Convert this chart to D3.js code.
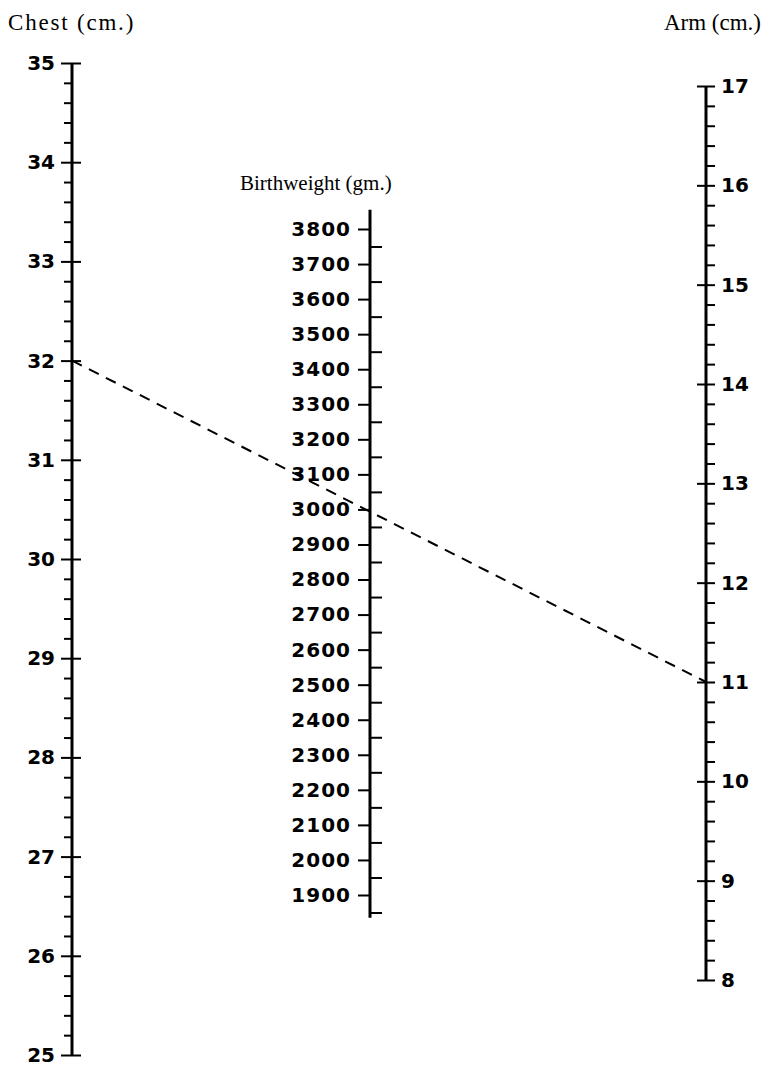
<!DOCTYPE html>
<html>
<head>
<meta charset="utf-8">
<script src="https://cdn.jsdelivr.net/npm/d3@7"></script>
<style>
  html, body { margin: 0; padding: 0; background: #fff; }
  svg { display: block; }
  .lbl { font-family: "DejaVu Sans", sans-serif; font-weight: bold; font-size: 20px; fill: #000; }
  .title { font-family: "Liberation Serif", "Times New Roman", serif; font-size: 23px; fill: #000; }
</style>
</head>
<body>
<script>
// ---- data ----
const chestMajor = [25, 26, 27, 28, 29, 30, 31, 32, 33, 34, 35];
const armMajor = [8, 9, 10, 11, 12, 13, 14, 15, 16, 17];
const bwMajor = [1900, 2000, 2100, 2200, 2300, 2400, 2500, 2600, 2700, 2800, 2900,
                 3000, 3100, 3200, 3300, 3400, 3500, 3600, 3700, 3800];
const bwMinor = [1850, 1950, 2050, 2150, 2250, 2350, 2450, 2550, 2650, 2750, 2850,
                 2950, 3050, 3150, 3250, 3350, 3450, 3550, 3650, 3750];
const chestMinor = d3.range(250, 351, 2).map(v => v / 10).filter(v => !Number.isInteger(v));
const armMinor = d3.range(80, 171, 2).map(v => v / 10).filter(v => !Number.isInteger(v));
const bwExtent = [1835, 3855];
const example = { chest: 32, arm: 11 };
const titles = { chest: "Chest (cm.)", bw: "Birthweight (gm.)", arm: "Arm (cm.)" };

// ---- layout ----
const W = 769, H = 1067;
const svg = d3.select("body").append("svg").attr("width", W).attr("height", H);

const chestY = d3.scaleLinear().domain([25, 35]).range([1055, 63]);
const armY = d3.scaleLinear().domain([8, 17]).range([980, 86]);
const bwY = d3.scaleLinear().domain([1900, 3800]).range([895, 229]);

const xChest = 72, xBw = 370, xArm = 706;

function styleAxis(g) {
  g.select(".domain").remove();
  g.attr("font-size", null).attr("font-family", null);
  g.selectAll(".tick line").attr("stroke", "#000").attr("stroke-width", 2);
  g.selectAll(".tick text").attr("class", "lbl");
}

// Chest axis
const gc = svg.append("g").attr("transform", `translate(${xChest},0)`);
gc.append("g").call(d3.axisLeft(chestY).tickValues(chestMinor).tickSize(8).tickFormat("")).call(styleAxis);
gc.append("g").call(d3.axisLeft(chestY).tickValues(chestMajor).tickSize(11).tickPadding(6).tickFormat(d3.format("d"))).call(styleAxis);
gc.append("g").call(d3.axisRight(chestY).tickValues(chestMajor).tickSize(9).tickFormat("")).call(styleAxis);
gc.append("line").attr("x1", 0).attr("x2", 0).attr("y1", chestY(35)).attr("y2", chestY(25))
  .attr("stroke", "#000").attr("stroke-width", 3);

// Birthweight axis
const gb = svg.append("g").attr("transform", `translate(${xBw},0)`);
gb.append("g").call(d3.axisLeft(bwY).tickValues(bwMajor).tickSize(12).tickPadding(7).tickFormat(d3.format("d"))).call(styleAxis);
gb.append("g").call(d3.axisRight(bwY).tickValues(bwMinor).tickSize(12).tickFormat("")).call(styleAxis);
gb.append("line").attr("x1", 0).attr("x2", 0).attr("y1", bwY(bwExtent[1])).attr("y2", bwY(bwExtent[0]))
  .attr("stroke", "#000").attr("stroke-width", 3);
gb.selectAll(".lbl").style("letter-spacing", "1px");

// Arm axis
const ga = svg.append("g").attr("transform", `translate(${xArm},0)`);
ga.append("g").call(d3.axisRight(armY).tickValues(armMinor).tickSize(9).tickFormat("")).call(styleAxis);
ga.append("g").call(d3.axisRight(armY).tickValues(armMajor).tickSize(9).tickPadding(6).tickFormat(d3.format("d"))).call(styleAxis);
ga.append("g").call(d3.axisLeft(armY).tickValues(armMajor).tickSize(9).tickFormat("")).call(styleAxis);
ga.append("line").attr("x1", 0).attr("x2", 0).attr("y1", armY(17)).attr("y2", armY(8))
  .attr("stroke", "#000").attr("stroke-width", 3);

// Example dashed line
svg.append("line")
  .attr("x1", xChest).attr("y1", chestY(example.chest))
  .attr("x2", xArm).attr("y2", armY(example.arm))
  .attr("stroke", "#000").attr("stroke-width", 2).attr("stroke-dasharray", "11,8");

// Titles
svg.append("text").attr("class", "title").attr("x", 8).attr("y", 30).style("letter-spacing", "1.8px").text(titles.chest);
svg.append("text").attr("class", "title").attr("x", 761).attr("y", 30).attr("text-anchor", "end").text(titles.arm);
svg.append("text").attr("class", "title").attr("x", 240).attr("y", 190).style("font-size", "21px").text(titles.bw);
</script>
</body>
</html>
